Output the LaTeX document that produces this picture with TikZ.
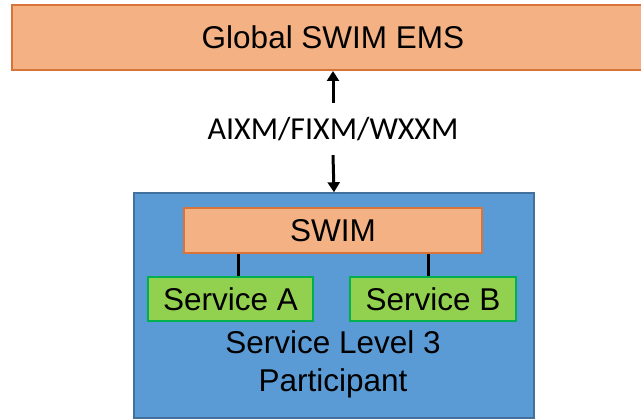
\documentclass[tikz,border=0pt]{standalone}
\usepackage{fontspec}
\setmainfont{Liberation Sans}
\newfontfamily\calibrifont{Carlito}
\usepackage{tikz}
\usetikzlibrary{arrows.meta, positioning}

\definecolor{swimfill}{HTML}{F4B183}
\definecolor{swimline}{HTML}{D8733A}
\definecolor{partfill}{HTML}{5B9BD5}
\definecolor{partline}{HTML}{41719C}
\definecolor{svcfill}{HTML}{92D050}
\definecolor{svcline}{HTML}{00B050}

\begin{document}
\begin{tikzpicture}[
  x=1pt, y=-1pt,
  every node/.style={font=\fontsize{31.5}{38}\selectfont, inner sep=0pt},
  orangebox/.style={rectangle, draw=swimline, line width=2pt, fill=swimfill},
  bluebox/.style={rectangle, draw=partline, line width=1.5pt, fill=partfill},
  greenbox/.style={rectangle, draw=svcline, line width=1.5pt, fill=svcfill},
  flow/.style={-{Triangle[length=10pt, width=12pt]}, line width=3pt},
  link/.style={line width=3pt},
]
  \useasboundingbox (0,0) rectangle (641,419);

  \node[orangebox, minimum width=642pt, minimum height=65pt] (ems) at (333,37.5) {Global SWIM EMS};
  \node[font=\calibrifont\fontsize{32}{36}\selectfont, minimum height=52pt] (fmt) at (333,129) {AIXM/FIXM/WXXM};

  \node[bluebox, minimum width=400pt, minimum height=225pt] (part) at (334,305.5) {};
  \node[orangebox, minimum width=298pt, minimum height=45pt] (swim) at (333,230.5) {SWIM};
  \node[greenbox, minimum width=165pt, minimum height=44pt] (svca) at (230.5,299) {Service A};
  \node[greenbox, minimum width=166pt, minimum height=44pt] (svcb) at (433,299) {Service B};
  \node[align=center] (lvl) at (333,364) {Service Level 3\\Participant};

  \draw[flow] (fmt.north) -- (ems.south);
  \draw[flow] (fmt.south) -- (part.north);
  \draw[link] ([xshift=7.5pt]svca.north) -- ([xshift=7.5pt]svca.north |- swim.south);
  \draw[link] ([xshift=-5pt]svcb.north) -- ([xshift=-5pt]svcb.north |- swim.south);
\end{tikzpicture}
\end{document}
